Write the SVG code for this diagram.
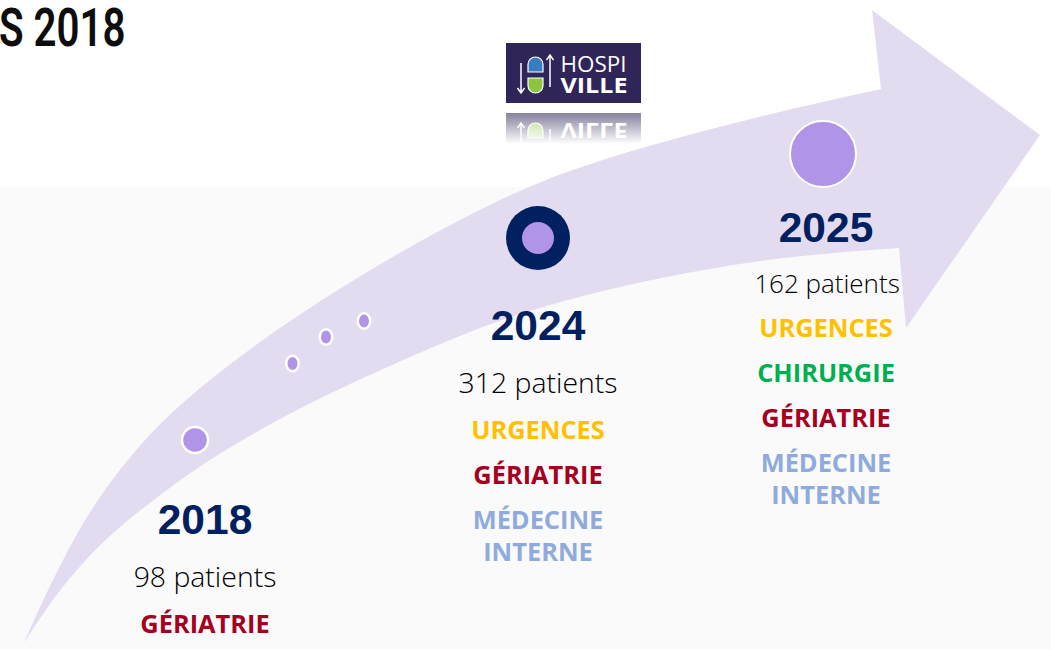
<svg xmlns="http://www.w3.org/2000/svg" width="1051" height="649" viewBox="0 0 1051 649">
<defs>
<linearGradient id="fade" x1="0" y1="0" x2="0" y2="1"><stop offset="0" stop-color="#fff" stop-opacity="0.4"/><stop offset="1" stop-color="#fff" stop-opacity="1"/></linearGradient>
<clipPath id="refl"><rect x="506" y="113" width="135" height="31"/></clipPath>
<g id="logo">
<rect x="506" y="43" width="135" height="60" fill="#2f2558"/>
<path d="M528,72 V64.500 a7.500,7.500 0 0 1 15,0 V72 Z" fill="#3a7cc0" stroke="#fff" stroke-width="1.200"/>
<path d="M528,78 H543 V85.500 a7.500,7.500 0 0 1 -15,0 Z" fill="#8cc63f" stroke="#fff" stroke-width="1.200"/>
<path d="M521,63 V92 M517.500,88 L521,93 L524.500,88 M550,87 V56 M546.500,60 L550,55 L553.500,60" fill="none" stroke="#fff" stroke-width="1.500"/>
<text x="560.500" y="72" class="l1" textLength="66" lengthAdjust="spacingAndGlyphs">HOSPI</text>
<text x="560.500" y="93" class="l2" textLength="67" lengthAdjust="spacingAndGlyphs">VILLE</text>
</g>
</defs>
<style>
text{font-family:"Open Sans","Liberation Sans",sans-serif}
.yr{font-family:"Liberation Sans",Arial,sans-serif;font-weight:700;font-size:42.500px;fill:#002060;text-anchor:middle}
.pt{font-size:28.400px;font-weight:300;fill:#000;text-anchor:middle}
.pt2{font-size:26px}
.tag{font-size:25.400px;font-weight:700;text-anchor:middle}
.u{fill:#ffc000}.g{fill:#a50021}.m{fill:#8faadc}.c{fill:#00b050}
.dot{fill:#b094e8;stroke:#fff;stroke-width:2.500}
.l1{font-family:"Open Sans","Liberation Sans",sans-serif;font-weight:400;font-size:22px;fill:#fff}
.l2{font-family:"Open Sans","Liberation Sans",sans-serif;font-weight:700;font-size:22px;fill:#fff}
.ttl{font-family:Roboto,"Liberation Sans",sans-serif;font-weight:600;font-size:53px;fill:#0d0d0d}
</style>
<rect width="1051" height="649" fill="#fff"/>
<rect y="187" width="1051" height="462" fill="#fafafa"/>
<text class="ttl" transform="translate(-1,46) scale(.76,1)">S 2018</text>
<g id="logo-group">
<use href="#logo"/>
<g clip-path="url(#refl)"><use href="#logo" transform="matrix(1 0 0 -1 0 216)"/></g>
<rect x="505" y="112" width="137" height="32" fill="url(#fade)"/>
</g>
<g id="connectors">
<path id="arrow" d="M24,643 C49.300,584.800 74.700,533.700 100,497 C136.700,443.800 173.300,409.400 210,380 C251,347.200 292,318.800 333,293 C388.700,257.900 444.300,226.700 500,200 C566.700,168 633.300,150 700,132 C760.300,115.700 820.700,102.300 881,89 L872,10 L1040,135 L906,328 L899,248 C843.700,251.900 788.300,256.100 733,265 C666.300,275.700 599.700,290 533,310 C485.300,324.300 437.700,345 390,366 C346.700,385 303.300,405.700 260,430 C229,447.400 198,466.700 167,490 C139,511 111,532.200 83,563 C63.300,584.700 43.700,611.500 24,643 Z" fill="#e3dcf1"/>
</g>
<g id="n2018">
<circle class="dot" cx="195" cy="440" r="13"/>
<text class="yr" x="205" y="534">2018</text>
<text class="pt" x="205" y="587">98 patients</text>
<text class="tag g" x="205" y="633">GÉRIATRIE</text>
</g>
<g id="dots">
<ellipse class="dot" cx="292.500" cy="363.500" rx="6.250" ry="7.750"/>
<ellipse class="dot" cx="326" cy="337" rx="6.250" ry="7.750"/>
<ellipse class="dot" cx="364" cy="321" rx="6.250" ry="7.750"/>
</g>
<g id="n2024">
<circle cx="538" cy="238" r="32" fill="#002060"/>
<circle cx="538" cy="238" r="16" fill="#b094e8"/>
<text class="yr" x="538" y="340">2024</text>
<text class="pt" x="538" y="393">312 patients</text>
<text class="tag u" x="538" y="439">URGENCES</text>
<text class="tag g" x="538" y="484">GÉRIATRIE</text>
<text class="tag m" x="538" y="529">MÉDECINE</text>
<text class="tag m" x="538" y="561">INTERNE</text>
</g>
<g id="n2025">
<circle cx="823" cy="154" r="33" fill="#b094e8" stroke="#fff" stroke-width="2"/>
<text class="yr" x="826" y="242">2025</text>
<text class="pt pt2" x="827" y="293">162 patients</text>
<text class="tag u" x="826" y="337">URGENCES</text>
<text class="tag c" x="826" y="382">CHIRURGIE</text>
<text class="tag g" x="826" y="427">GÉRIATRIE</text>
<text class="tag m" x="826" y="472">MÉDECINE</text>
<text class="tag m" x="826" y="504">INTERNE</text>
</g>
</svg>
